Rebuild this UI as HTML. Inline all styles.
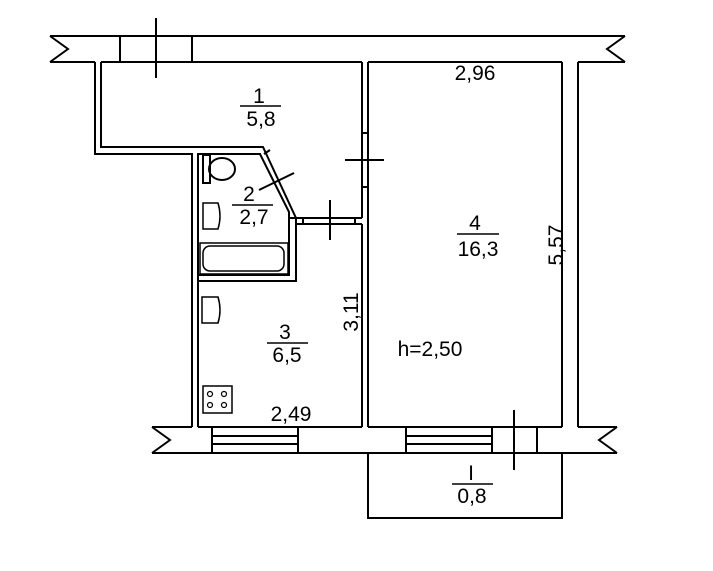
<!DOCTYPE html>
<html><head><style>body{margin:0;background:#fff}svg{display:block}text{font-family:"Liberation Sans",sans-serif;font-size:21px;fill:#000}</style></head>
<body>
<svg width="713" height="571" viewBox="0 0 713 571" fill="none" stroke="#000" stroke-width="2">
<line x1="50" y1="36" x2="625" y2="36"/>
<polyline points="50,36 68,49 50,62"/>
<polyline points="625,36 607,49 625,62"/>
<line x1="50" y1="62" x2="95" y2="62"/>
<line x1="101" y1="62" x2="362" y2="62"/>
<line x1="368" y1="62" x2="562" y2="62"/>
<line x1="578" y1="62" x2="625" y2="62"/>
<line x1="120" y1="36" x2="120" y2="62"/>
<line x1="192" y1="36" x2="192" y2="62"/>
<line x1="156" y1="18" x2="156" y2="78"/>
<polyline points="95,62 95,154 192,154 192,427"/>
<polyline points="101,62 101,147 263,147 296,218 362,218"/>
<polyline points="198,427 198,154 260,154 289,212 289,275 198,275"/>
<polyline points="198,281 296,281 296,224 362,224"/>
<line x1="264" y1="154" x2="270" y2="150"/>
<line x1="289" y1="218" x2="296" y2="218"/>
<line x1="303" y1="218" x2="303" y2="224"/>
<line x1="355" y1="218" x2="355" y2="224"/>
<line x1="296" y1="218" x2="296" y2="224"/>
<line x1="330" y1="200" x2="330" y2="240"/>
<line x1="259" y1="190" x2="294" y2="173"/>
<line x1="362" y1="62" x2="362" y2="133"/>
<line x1="362" y1="187" x2="362" y2="218"/>
<line x1="362" y1="224" x2="362" y2="427"/>
<line x1="368" y1="62" x2="368" y2="427"/>
<rect x="362" y="133" width="6" height="54"/>
<line x1="345" y1="160" x2="384" y2="160"/>
<line x1="562" y1="62" x2="562" y2="427"/>
<line x1="578" y1="62" x2="578" y2="427"/>
<line x1="152" y1="427" x2="192" y2="427"/>
<line x1="198" y1="427" x2="362" y2="427"/>
<line x1="368" y1="427" x2="562" y2="427"/>
<line x1="578" y1="427" x2="617" y2="427"/>
<line x1="152" y1="453" x2="617" y2="453"/>
<polyline points="152,427 170,440 152,453"/>
<polyline points="617,427 599,440 617,453"/>
<rect x="212" y="427" width="86" height="26"/>
<line x1="212" y1="436" x2="298" y2="436"/>
<line x1="212" y1="444" x2="298" y2="444"/>
<rect x="406" y="427" width="86" height="26"/>
<line x1="406" y1="436" x2="492" y2="436"/>
<line x1="406" y1="444" x2="492" y2="444"/>
<line x1="537" y1="427" x2="537" y2="453"/>
<line x1="514" y1="410" x2="514" y2="470"/>
<polyline points="368,453 368,518 562,518 562,453"/>
<rect x="203" y="155" width="7" height="28"/>
<ellipse cx="222" cy="169" rx="13" ry="11"/>
<path d="M203,203 h15 q4,13 0,26 h-15 z" stroke-width="1.5"/>
<rect x="200" y="243" width="88" height="31" stroke-width="1.5"/>
<rect x="203" y="246" width="81" height="25" rx="7" stroke-width="1.5"/>
<path d="M202,297 h16 q4,13 0,26 h-16 z" stroke-width="1.5"/>
<rect x="203" y="386" width="29" height="27" stroke-width="1.5"/>
<circle cx="210" cy="394" r="2.5" stroke-width="1.2"/><circle cx="224" cy="394" r="2.5" stroke-width="1.2"/>
<circle cx="210" cy="405" r="2.5" stroke-width="1.2"/><circle cx="224" cy="405" r="2.5" stroke-width="1.2"/>
<line x1="240" y1="106" x2="281" y2="106" stroke-width="1.5"/>
<line x1="232" y1="205" x2="273" y2="205" stroke-width="1.5"/>
<line x1="267" y1="343" x2="308" y2="343" stroke-width="1.5"/>
<line x1="457" y1="234" x2="499" y2="234" stroke-width="1.5"/>
<line x1="452" y1="484" x2="493" y2="484" stroke-width="1.5"/>
<g stroke="none" text-anchor="middle">
<text x="259" y="103">1</text><text x="261" y="126">5,8</text>
<text x="249" y="201">2</text><text x="254" y="224">2,7</text>
<text x="285" y="339">3</text><text x="287" y="362">6,5</text>
<text x="475" y="230">4</text><text x="478" y="256">16,3</text>
<text x="475" y="80">2,96</text>
<text x="291" y="421">2,49</text>
<text x="430" y="356">h=2,50</text>
<text x="471" y="480">I</text><text x="472" y="503">0,8</text>
<text transform="translate(563,245) rotate(-90)">5,57</text>
<text transform="translate(358,312) rotate(-90)">3,11</text>
</g>
</svg>
</body></html>
